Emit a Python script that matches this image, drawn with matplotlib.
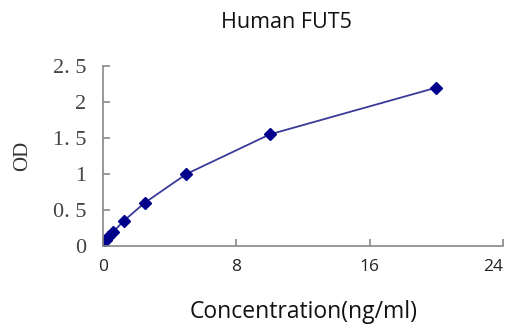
import matplotlib
matplotlib.use("Agg")
import matplotlib.pyplot as plt
import matplotlib.transforms as mtransforms

conc = [0, 0.156, 0.312, 0.625, 1.25, 2.5, 5, 10, 20]
od = [0.05, 0.08, 0.12, 0.2, 0.35, 0.6, 1.0, 1.55, 2.2]
xticks = [0, 8, 16, 24]
yticks = [0, 0.5, 1, 1.5, 2, 2.5]
ytick_labels = ["0", "0. 5", "1", "1. 5", "2", "2. 5"]

fig = plt.figure(figsize=(5.09, 3.24), dpi=100)
ax = fig.add_axes([0.2024, 0.2407, 0.786, 0.5556])
navy = "#00008B"
ax.plot(conc, od, color="#3a3a9a", lw=1.3, marker="D", ms=6.5,
        markerfacecolor=navy, markeredgecolor=navy)
ax.set_xlim(0, 24)
ax.set_ylim(0, 2.5)
ax.set_xticks(xticks)
ax.set_xticklabels([str(t) for t in xticks], fontfamily="Open Sans", fontsize=12.5, color="#222")
ax.set_yticks(yticks)
ax.set_yticklabels(ytick_labels, fontfamily="Liberation Serif", fontsize=16, color="#444")
for s in ["top", "right"]:
    ax.spines[s].set_visible(False)
for s in ["left", "bottom"]:
    ax.spines[s].set_color("#888888")
    ax.spines[s].set_linewidth(1.2)
ax.tick_params(axis="both", direction="in", length=5, color="#888888", width=1.2)
ax.tick_params(axis="x", pad=9)
ax.tick_params(axis="y", pad=12)
last = ax.get_xticklabels()[-1]
last.set_transform(last.get_transform() + mtransforms.ScaledTranslation(-0.1, 0, fig.dpi_scale_trans))
fig.text(0.563, 0.932, "Human FUT5", ha="center", va="center", fontfamily="Open Sans", fontsize=15.5, color="#111")
fig.text(0.597, 0.036, "Concentration(ng/ml)", ha="center", va="center", fontfamily="Open Sans", fontsize=16.5, color="#111")
fig.text(0.044, 0.52, "OD", ha="center", va="center", rotation=90, fontfamily="Liberation Serif", fontsize=15, color="#333")
fig.savefig("out.png", dpi=100)
